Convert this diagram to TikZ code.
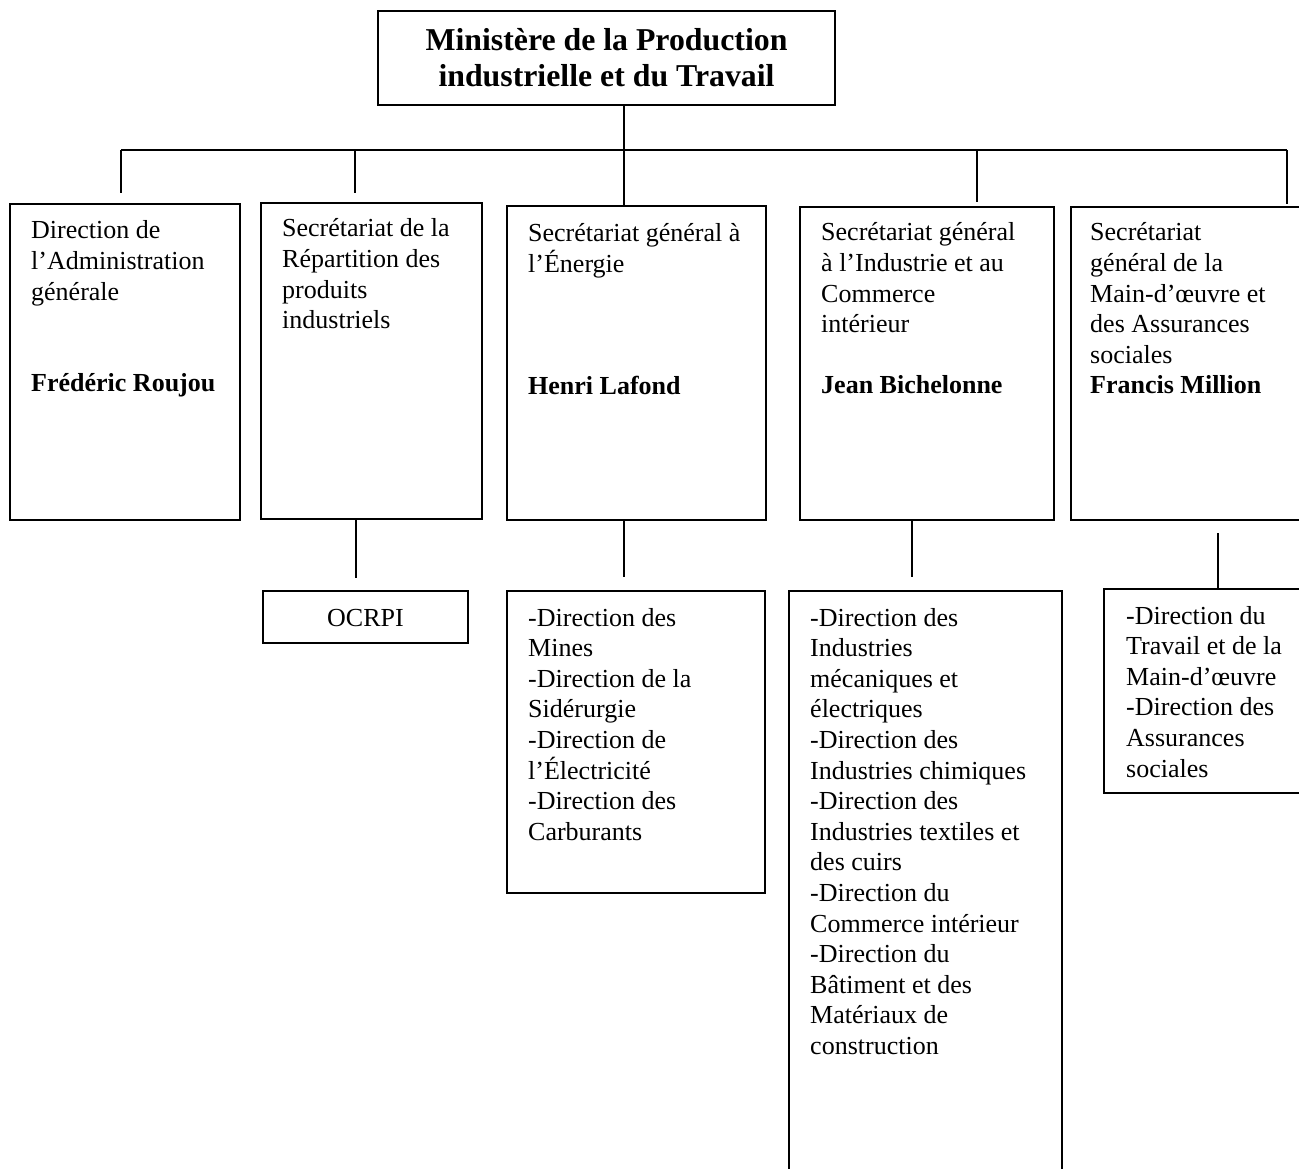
\documentclass[tikz,border=0pt]{standalone}
\usepackage{fontspec}
\setmainfont{Liberation Serif}
\tikzset{
  box/.style={draw, line width=1.8pt, inner sep=0pt, outer sep=0pt},
  conn/.style={line width=1.6pt},
  txt/.style={anchor=base west, inner sep=0pt, font=\fontsize{26}{30.6}\selectfont},
}
\newcommand{\blankln}{\mbox{}}
\begin{document}
\begin{tikzpicture}[x=1pt, y=-1pt]
\useasboundingbox (0,0) rectangle (1299,1169);
\fill[white] (0,0) rectangle (1299,1169);
\clip (0,0) rectangle (1299,1169);

% boxes
\node[box, minimum width=457, minimum height=94] (top) at (606.5,58) {};
\node[box, minimum width=230, minimum height=316] (b1) at (125,362) {};
\node[box, minimum width=221, minimum height=316] (b2) at (371.5,361) {};
\node[box, minimum width=259, minimum height=314] (b3) at (636.5,363) {};
\node[box, minimum width=254, minimum height=313] (b4) at (927,363.5) {};
\node[box, minimum width=259, minimum height=313] (b5) at (1200.5,363.5) {};
\node[box, minimum width=205, minimum height=52] (ocrpi) at (365.5,617) {};
\node[box, minimum width=258, minimum height=302] (s3) at (636,742) {};
\node[box, minimum width=273, minimum height=599] (s4) at (925.5,890.5) {};
\node[box, minimum width=226, minimum height=204] (s5) at (1217,691) {};

% texts
\node[anchor=base, inner sep=0pt, font=\fontsize{31.8}{36}\selectfont\bfseries] (ttop) at (606.5,51)
  {\parbox[t]{457pt}{\centering Ministère de la Production\\industrielle et du Travail}};
\node[txt] (t1) at (31,239) {\parbox[t]{300pt}{\raggedright Direction de\\l’Administration\\générale\\\blankln\\\blankln\\\textbf{Frédéric Roujou}}};
\node[txt] (t2) at (282,237) {\parbox[t]{300pt}{\raggedright Secrétariat de la\\Répartition des\\produits\\industriels}};
\node[txt] (t3) at (528,242) {\parbox[t]{300pt}{\raggedright Secrétariat général à\\l’Énergie\\\blankln\\\blankln\\\blankln\\\textbf{Henri Lafond}}};
\node[txt] (t4) at (821,241) {\parbox[t]{300pt}{\raggedright Secrétariat général\\à l’Industrie et au\\Commerce\\intérieur\\\blankln\\\textbf{Jean Bichelonne}}};
\node[txt] (t5) at (1090,241) {\parbox[t]{300pt}{\raggedright Secrétariat\\général de la\\Main-d’œuvre et\\des Assurances\\sociales\\\textbf{Francis Million}}};
\node[anchor=base, inner sep=0pt, font=\fontsize{26}{30.6}\selectfont] (tocrpi) at (365.5,626) {OCRPI};
\node[txt] (ts3) at (528,626) {\parbox[t]{300pt}{\raggedright -Direction des\\Mines\\-Direction de la\\Sidérurgie\\-Direction de\\l’Électricité\\-Direction des\\Carburants}};
\node[txt] (ts4) at (810,626) {\parbox[t]{300pt}{\raggedright -Direction des\\Industries\\mécaniques et\\électriques\\-Direction des\\Industries chimiques\\-Direction des\\Industries textiles et\\des cuirs\\-Direction du\\Commerce intérieur\\-Direction du\\Bâtiment et des\\Matériaux de\\construction}};
\node[txt] (ts5) at (1126,624) {\parbox[t]{300pt}{\raggedright -Direction du\\Travail et de la\\Main-d’œuvre\\-Direction des\\Assurances\\sociales}};

% connector coordinates
\coordinate (j) at (624,150);
\coordinate (busL) at (121,150);
\coordinate (busR) at (1287,150);
\coordinate (bus2) at (355,150);
\coordinate (bus4) at (977,150);
\coordinate (d1) at (121,193);
\coordinate (d2) at (355,193);
\coordinate (d4) at (977,202);
\coordinate (d5) at (1287,204);
\coordinate (o1) at (356,578);
\coordinate (e1) at (624,577);
\coordinate (i1) at (912,577);
\coordinate (m0) at (1218,533);

% connectors
\draw[conn] (top.south -| j) -- (j) -- (b3.north -| j);
\draw[conn] (busL) -- (busR);
\draw[conn] (busL) -- (d1);
\draw[conn] (bus2) -- (d2);
\draw[conn] (bus4) -- (d4);
\draw[conn] (busR) -- (d5);
\draw[conn] (b2.south -| o1) -- (o1);
\draw[conn] (b3.south -| e1) -- (e1);
\draw[conn] (b4.south -| i1) -- (i1);
\draw[conn] (m0) -- (s5.north -| m0);
\end{tikzpicture}
\end{document}
